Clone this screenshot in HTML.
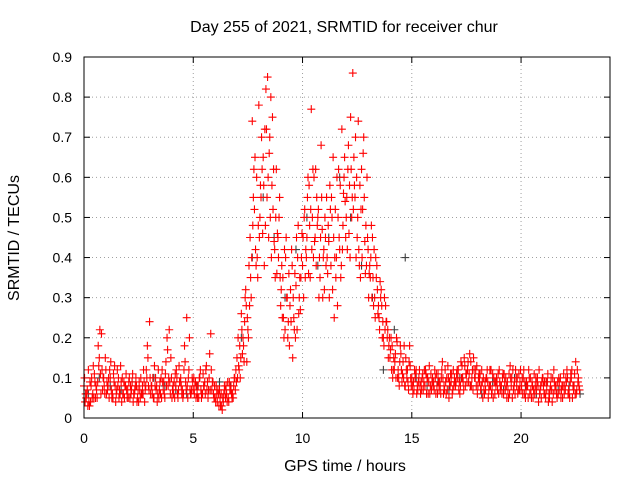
<!DOCTYPE html>
<html><head><meta charset="utf-8"><style>
body{margin:0;background:#fff}
svg{display:block;font-family:"Liberation Sans",sans-serif}
</style></head><body>
<svg id="chart" width="640" height="480">
<text x="344" y="32" text-anchor="middle" font-size="16">Day 255 of 2021, SRMTID for receiver chur</text>
<text x="345" y="471" text-anchor="middle" font-size="16">GPS time / hours</text>
<text transform="translate(19,238) rotate(-90)" text-anchor="middle" font-size="16">SRMTID / TECUs</text>
<g id="grid"></g><g id="ticks"></g><g id="gray"></g><g id="red"></g>
<rect x="84" y="57" width="526" height="361" fill="none" stroke="#000"/>
</svg>
<script>
const xTicks=[0,5,10,15,20];
const yTicks=[0,0.1,0.2,0.3,0.4,0.5,0.6,0.7,0.8,0.9];
const redStart=0, redStep=0.1;
const redA=[0.08,0.05,0.12,0.04,0.06,0.09,0.05,0.15,0.21,0.1,
0.12,0.08,0.1,0.06,0.13,0.07,0.05,0.09,0.06,0.08,
0.07,0.05,0.09,0.06,0.08,0.04,0.1,0.06,0.07,0.18,
0.24,0.08,0.05,0.07,0.12,0.06,0.09,0.05,0.2,0.22,
0.1,0.06,0.08,0.05,0.09,0.07,0.18,0.25,0.12,0.06,
0.07,0.09,0.05,0.1,0.06,0.08,0.13,0.07,0.21,0.09,
0.05,0.04,0.07,0.03,0.06,0.08,0.05,0.07,0.06,0.1,
0.15,0.12,0.26,0.18,0.32,0.22,0.45,0.74,0.52,0.6,
0.78,0.55,0.65,0.48,0.85,0.7,0.58,0.44,0.62,0.4,
0.28,0.35,0.22,0.3,0.18,0.42,0.25,0.33,0.48,0.27,
0.38,0.52,0.45,0.58,0.77,0.4,0.62,0.5,0.35,0.47,
0.32,0.55,0.44,0.38,0.65,0.52,0.28,0.42,0.72,0.6,
0.5,0.68,0.75,0.86,0.55,0.45,0.38,0.62,0.7,0.48,
0.42,0.35,0.45,0.3,0.38,0.25,0.32,0.2,0.28,0.22,
0.15,0.18,0.12,0.2,0.1,0.16,0.14,0.08,0.12,0.18,
0.1,0.07,0.12,0.09,0.06,0.11,0.08,0.1,0.13,0.07,
0.09,0.06,0.11,0.08,0.14,0.07,0.1,0.05,0.09,0.12,
0.08,0.1,0.06,0.13,0.15,0.11,0.09,0.14,0.07,0.1,
0.06,0.09,0.12,0.07,0.1,0.05,0.08,0.11,0.06,0.09,
0.12,0.08,0.06,0.1,0.07,0.13,0.05,0.09,0.08,0.11,
0.07,0.1,0.05,0.08,0.06,0.09,0.11,0.07,0.04,0.08,
0.1,0.06,0.09,0.05,0.07,0.12,0.08,0.06,0.1,0.05,
0.08,0.12,0.06,0.1,0.07,0.14,0.09];
const redB=[0.04,0.07,0.03,0.1,0.05,0.08,0.18,0.11,0.07,0.06,
0.09,0.05,0.07,0.11,0.04,0.08,0.06,0.1,0.05,0.07,
0.09,0.06,0.04,0.08,0.05,0.07,0.06,0.09,0.12,0.08,
0.06,0.1,0.08,0.04,0.07,0.05,0.09,0.14,0.08,0.06,
0.07,0.05,0.1,0.13,0.08,0.06,0.09,0.05,0.07,0.1,
0.06,0.08,0.05,0.07,0.11,0.06,0.09,0.16,0.07,0.05,
0.08,0.06,0.03,0.05,0.07,0.04,0.09,0.06,0.08,0.12,
0.2,0.1,0.16,0.24,0.14,0.38,0.3,0.55,0.42,0.35,
0.5,0.62,0.38,0.72,0.45,0.8,0.52,0.35,0.46,0.55,
0.38,0.2,0.45,0.24,0.32,0.15,0.36,0.22,0.3,0.4,
0.3,0.42,0.6,0.35,0.5,0.44,0.55,0.3,0.68,0.4,
0.45,0.36,0.58,0.5,0.25,0.4,0.62,0.35,0.48,0.54,
0.42,0.58,0.5,0.65,0.4,0.74,0.35,0.52,0.44,0.6,
0.36,0.48,0.28,0.4,0.26,0.34,0.2,0.3,0.24,0.18,
0.2,0.12,0.16,0.1,0.14,0.09,0.18,0.12,0.07,0.1,
0.06,0.1,0.08,0.12,0.07,0.09,0.11,0.06,0.08,0.1,
0.12,0.08,0.07,0.1,0.06,0.09,0.13,0.08,0.06,0.1,
0.11,0.07,0.14,0.09,0.08,0.12,0.16,0.1,0.12,0.08,
0.1,0.07,0.05,0.09,0.12,0.08,0.06,0.1,0.08,0.11,
0.07,0.1,0.09,0.05,0.11,0.08,0.07,0.12,0.06,0.09,
0.1,0.06,0.09,0.12,0.07,0.05,0.08,0.1,0.06,0.09,
0.06,0.09,0.04,0.08,0.1,0.07,0.05,0.09,0.07,0.11,
0.1,0.06,0.09,0.05,0.11,0.07,0.08];
const redC=[0.1,0.06,0.04,0.08,0.13,0.05,0.09,0.22,0.12,0.08,
0.06,0.1,0.14,0.05,0.08,0.12,0.07,0.04,0.09,0.11,
0.05,0.08,0.11,0.07,0.04,0.09,0.06,0.12,0.08,0.15,
0.1,0.06,0.13,0.08,0.05,0.1,0.07,0.11,0.17,0.09,
0.05,0.09,0.12,0.07,0.1,0.05,0.14,0.08,0.2,0.07,
0.1,0.05,0.08,0.12,0.06,0.09,0.07,0.1,0.12,0.06,
0.04,0.07,0.05,0.02,0.08,0.06,0.04,0.08,0.05,0.07,
0.1,0.18,0.22,0.14,0.28,0.2,0.35,0.48,0.65,0.4,
0.45,0.7,0.58,0.82,0.6,0.5,0.75,0.42,0.36,0.5,
0.32,0.25,0.4,0.2,0.28,0.38,0.22,0.45,0.26,0.35,
0.45,0.35,0.55,0.48,0.42,0.6,0.38,0.52,0.45,0.3,
0.5,0.4,0.3,0.55,0.45,0.35,0.5,0.58,0.42,0.65,
0.55,0.46,0.62,0.52,0.7,0.5,0.58,0.4,0.55,0.38,
0.3,0.4,0.35,0.25,0.32,0.22,0.28,0.18,0.24,0.15,
0.17,0.1,0.14,0.19,0.08,0.12,0.1,0.15,0.09,0.13,
0.08,0.12,0.06,0.1,0.09,0.07,0.12,0.1,0.06,0.09,
0.07,0.11,0.09,0.06,0.1,0.12,0.07,0.09,0.11,0.08,
0.09,0.12,0.08,0.1,0.13,0.09,0.11,0.08,0.15,0.12,
0.08,0.11,0.09,0.06,0.1,0.07,0.12,0.05,0.09,0.07,
0.09,0.06,0.11,0.08,0.05,0.1,0.12,0.06,0.1,0.07,
0.08,0.12,0.07,0.05,0.1,0.08,0.06,0.09,0.12,0.05,
0.08,0.05,0.11,0.07,0.04,0.09,0.06,0.1,0.05,0.08,
0.07,0.1,0.05,0.12,0.08,0.06,0.1];
const redD=[0.06,0.03,0.09,0.05,0.11,0.07,0.13,0.06,0.1,0.15,
0.07,0.12,0.05,0.09,0.06,0.1,0.13,0.06,0.08,0.05,
0.1,0.07,0.06,0.1,0.07,0.05,0.08,0.04,0.1,0.07,
0.08,0.05,0.1,0.06,0.09,0.12,0.06,0.08,0.1,0.15,
0.08,0.11,0.06,0.09,0.06,0.12,0.07,0.1,0.06,0.09,
0.08,0.06,0.1,0.05,0.08,0.12,0.05,0.07,0.09,0.08,
0.06,0.03,0.06,0.04,0.05,0.09,0.07,0.05,0.1,0.09,
0.13,0.15,0.2,0.3,0.25,0.28,0.4,0.62,0.38,0.48,
0.58,0.46,0.72,0.55,0.66,0.4,0.62,0.5,0.45,0.35,
0.25,0.42,0.3,0.36,0.24,0.3,0.2,0.4,0.35,0.46,
0.5,0.4,0.36,0.52,0.62,0.45,0.48,0.4,0.55,0.42,
0.38,0.48,0.52,0.32,0.4,0.6,0.45,0.38,0.56,0.45,
0.62,0.4,0.55,0.58,0.6,0.42,0.52,0.66,0.36,0.45,
0.38,0.3,0.42,0.35,0.28,0.3,0.24,0.22,0.2,0.2,
0.12,0.15,0.1,0.12,0.18,0.11,0.08,0.1,0.14,0.08,
0.09,0.11,0.07,0.08,0.1,0.12,0.06,0.09,0.11,0.08,
0.1,0.06,0.09,0.12,0.08,0.06,0.1,0.11,0.07,0.09,
0.12,0.09,0.1,0.07,0.11,0.14,0.08,0.12,0.1,0.13,
0.11,0.08,0.1,0.07,0.09,0.12,0.07,0.09,0.1,0.06,
0.08,0.11,0.07,0.09,0.06,0.1,0.08,0.1,0.07,0.12,
0.06,0.09,0.08,0.1,0.05,0.07,0.1,0.08,0.07,0.1,
0.09,0.07,0.06,0.1,0.06,0.08,0.09,0.07,0.08,0.06,
0.09,0.07,0.11,0.08,0.06,0.12,0.07];
const grayStep=0.5;
const grayVals=[0.06,0.1,0.08,0.07,0.09,0.06,0.1,0.08,0.07,0.06,0.08,0.07,0.09,0.08,0.2,0.4,0.55,0.45,0.3,0.42,0.5,0.38,0.45,0.6,0.5,0.38,0.3,0.12,0.22,0.4,0.1,0.08,0.09,0.07,0.1,0.08,0.06,0.09,0.07,0.1,0.08,0.06,0.09,0.07,0.08,0.06];
const X0=84,X1=610,Y0=418,Y1=57,XMAX=24.07,YMAX=0.9;
const xs=v=>X0+v/XMAX*(X1-X0);
const ys=v=>Y0-v/YMAX*(Y0-Y1);
const NS='http://www.w3.org/2000/svg';
function mk(tag,attrs,parent){const e=document.createElementNS(NS,tag);for(const k in attrs)e.setAttribute(k,attrs[k]);document.getElementById(parent).appendChild(e);return e;}
xTicks.forEach(t=>{const x=xs(t);
 if(t>0){const g=mk('line',{x1:x,x2:x,y1:Y1,y2:Y0,stroke:'#a0a0a0','stroke-dasharray':'1,3'},'grid');
 
 }
 mk('line',{x1:x,x2:x,y1:Y0,y2:Y0-6,stroke:'#000'},'ticks');
 mk('line',{x1:x,x2:x,y1:Y1,y2:Y1+6,stroke:'#000'},'ticks');
 const l=mk('text',{x:x,y:443,'text-anchor':'middle','font-size':14},'ticks');l.textContent=t;
 
 });
yTicks.forEach(t=>{const y=ys(t);
 if(t>0&&t<0.9){const g=mk('line',{x1:X0,x2:X1,y1:y,y2:y,stroke:'#a0a0a0','stroke-dasharray':'1,3'},'grid');
 
 }
 mk('line',{x1:X0,x2:X0+6,y1:y,y2:y,stroke:'#000'},'ticks');
 mk('line',{x1:X1,x2:X1-6,y1:y,y2:y,stroke:'#000'},'ticks');
 const l=mk('text',{x:72,y:y+5,'text-anchor':'end','font-size':14},'ticks');l.textContent=String(t);
 
 });
function plus(t,v,col,parent){const x=xs(t),y=ys(v);
 const p=mk('path',{d:`M${x-4},${y}h8M${x},${y-4}v8`,stroke:col,'stroke-width':1.1,fill:'none'},parent);
 
 }
grayVals.forEach((v,i)=>plus(i*grayStep+0.2,v,'#404040','gray'));
redA.forEach((v,i)=>plus(redStart+i*redStep,v,'#ff0000','red'));
redB.forEach((v,i)=>plus(redStart+i*redStep+0.05,v,'#ff0000','red'));
redC.forEach((v,i)=>plus(redStart+i*redStep+0.025,v,'#ff0000','red'));
redD.forEach((v,i)=>plus(redStart+i*redStep+0.075,v,'#ff0000','red'));
</script>
</body></html>
